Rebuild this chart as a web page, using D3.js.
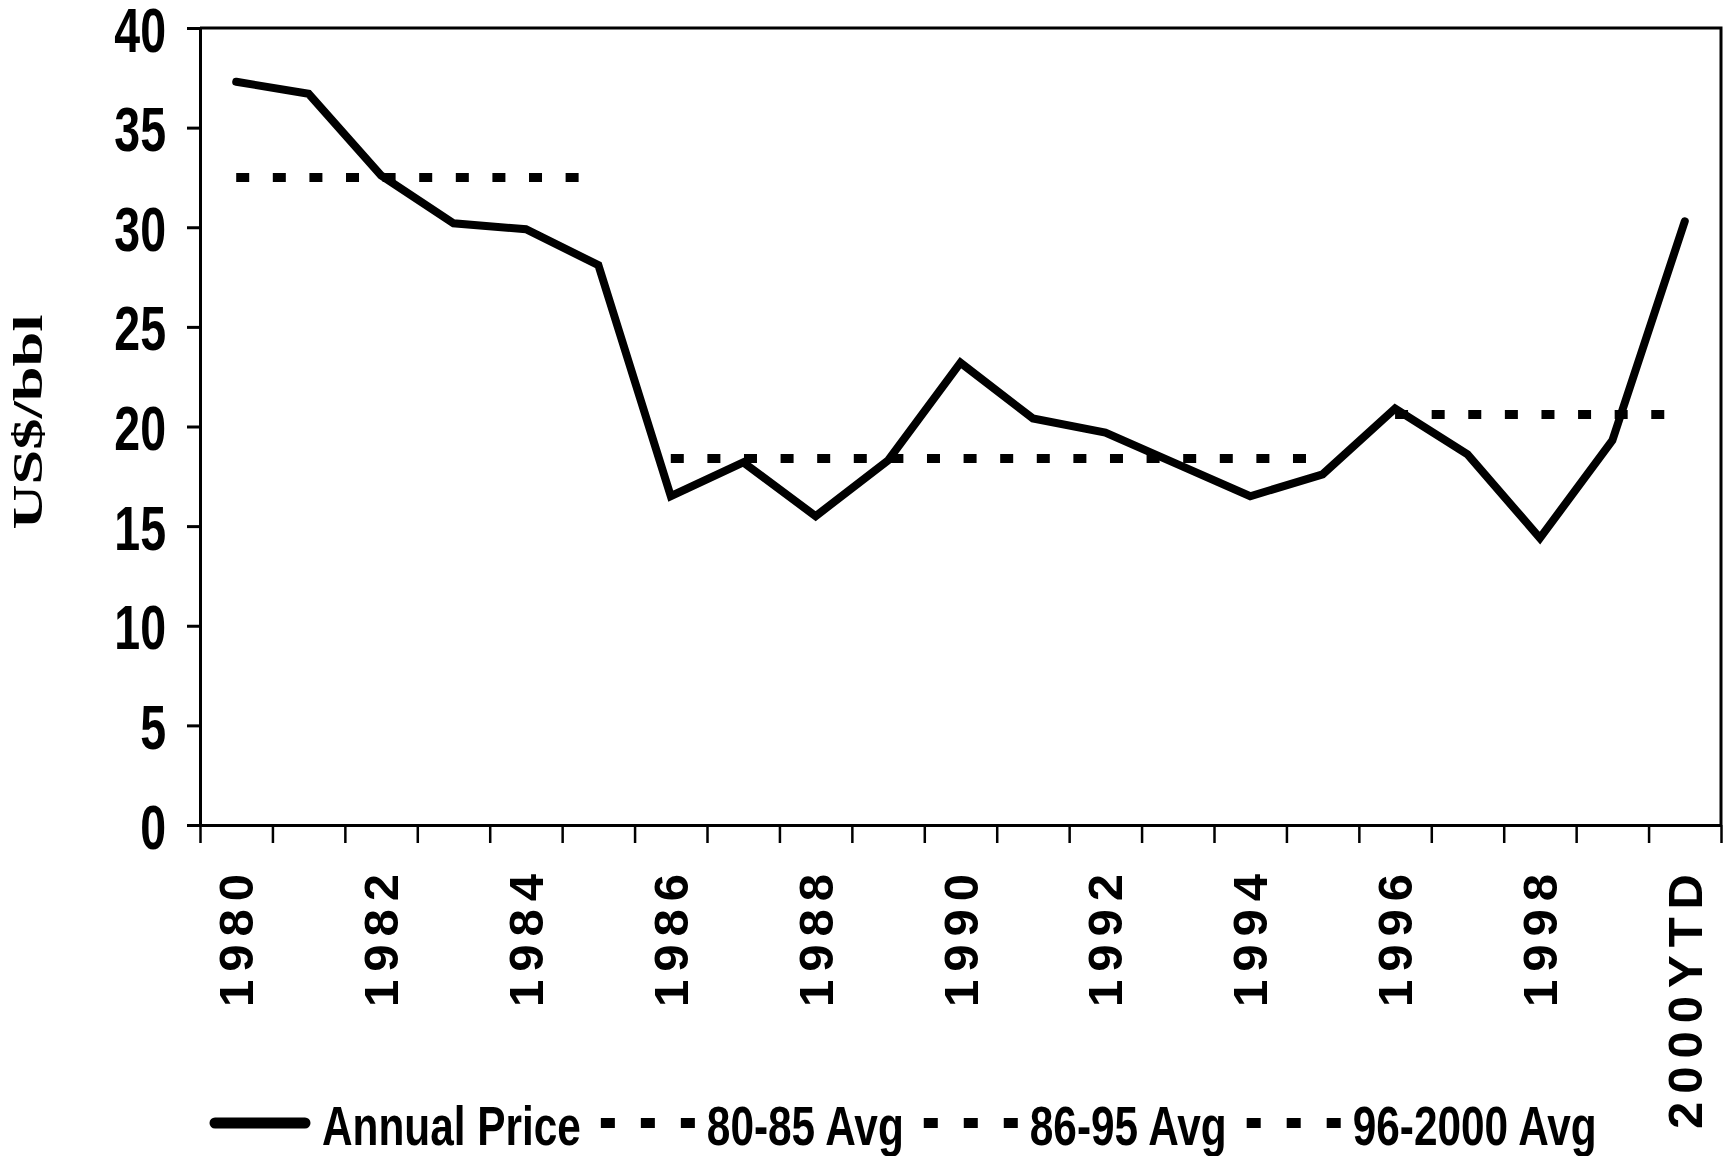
<!DOCTYPE html>
<html>

<head>
    <meta charset="utf-8">
    <script src="https://d3js.org/d3.v7.min.js"></script>
    <style>
        body { margin: 0; background: #fff; }
        .sans { font-family: "Liberation Sans", Arial, sans-serif; font-weight: bold; }
        .serif { font-family: "Liberation Serif", "Times New Roman", serif; font-weight: bold; }
    </style>
    <script>
        // annual oil price, US$/bbl
        const years = ["1980", "1981", "1982", "1983", "1984", "1985", "1986", "1987", "1988", "1989",
            "1990", "1991", "1992", "1993", "1994", "1995", "1996", "1997", "1998", "1999", "2000YTD"];
        const price = [37.3, 36.7, 32.6, 30.2, 29.9, 28.1, 16.5, 18.2, 15.5, 18.3,
            23.2, 20.4, 19.7, 18.1, 16.5, 17.6, 20.9, 18.6, 14.4, 19.3, 30.3];

        // period averages
        const avgNames = ["80-85 Avg", "86-95 Avg", "96-2000 Avg"];
        const avgFrom = ["1980", "1986", "1996"];
        const avgTo = ["1985", "1995", "2000YTD"];
        const avgValue = [32.5, 18.4, 20.6];

        const yTicks = [0, 5, 10, 15, 20, 25, 30, 35, 40];
        const xLabels = ["1980", "1982", "1984", "1986", "1988", "1990", "1992", "1994", "1996", "1998", "2000YTD"];

        function draw() {
            let width = 1728;
            let height = 1156;
            let left = 200, right = 1721, top = 28, bottom = 825;
            let narrow = 0.75; // condensed look of the original labels

            let svg = d3.select('body').append('svg')
                .attr('width', width)
                .attr('height', height);

            let x = d3.scaleBand().domain(years).range([left, right]);
            let xc = d => x(d) + x.bandwidth() / 2;
            let xEdge = d3.scaleLinear().domain([0, years.length]).range([left, right]);
            let y = d3.scaleLinear().domain([0, 40]).range([bottom, top]);

            // plot frame (top and right)
            svg.append('path')
                .attr('d', `M${left},${top}H${right}V${bottom}`)
                .attr('fill', 'none')
                .attr('stroke', '#000')
                .attr('stroke-width', 3);

            // y axis
            let yAxis = svg.append('g')
                .attr('transform', `translate(${left},0)`)
                .call(d3.axisLeft(y).tickValues(yTicks).tickSize(13).tickSizeOuter(0).tickPadding(21));
            yAxis.select('.domain').attr('stroke-width', 3);
            yAxis.selectAll('.tick line').attr('stroke-width', 3);
            yAxis.selectAll('.tick text')
                .attr('class', 'sans')
                .attr('font-size', 62)
                .attr('x', -34 / narrow)
                .attr('dy', 23)
                .attr('transform', `scale(${narrow},1)`)
                .attr('fill', '#000');

            // x axis: ticks between categories
            let xAxis = svg.append('g')
                .attr('transform', `translate(0,${bottom})`)
                .call(d3.axisBottom(xEdge).tickValues(d3.range(years.length + 1)).tickSize(18).tickSizeOuter(0).tickFormat(''));
            xAxis.select('.domain').attr('stroke-width', 3);
            xAxis.selectAll('.tick line').attr('stroke-width', 2.5);

            svg.append('g').selectAll('text')
                .data(xLabels)
                .enter()
                .append('text')
                    .attr('class', 'sans')
                    .attr('transform', d => `translate(${xc(d) + 17},874) rotate(-90)`)
                    .attr('text-anchor', 'end')
                    .attr('font-size', 49)
                    .text(d => d)
                    .each(function (d) {
                        // spaced-out glyphs as in the original
                        let w = this.getComputedTextLength();
                        d3.select(this)
                            .attr('textLength', w + (d.length - 1) * 8)
                            .attr('lengthAdjust', 'spacing');
                    });

            // y title
            svg.append('text')
                .attr('class', 'serif')
                .attr('transform', 'translate(42,422) rotate(-90)')
                .attr('text-anchor', 'middle')
                .attr('font-size', 42)
                .attr('textLength', 215)
                .attr('lengthAdjust', 'spacingAndGlyphs')
                .text('US$/bbl');

            // average lines
            svg.append('g').selectAll('path')
                .data(avgNames.map((n, i) => [[avgFrom[i], avgValue[i]], [avgTo[i], avgValue[i]]]))
                .enter()
                .append('path')
                    .attr('d', d3.line().x(d => xc(d[0])).y(d => y(d[1])))
                    .attr('fill', 'none')
                    .attr('stroke', '#000')
                    .attr('stroke-width', 9)
                    .attr('stroke-dasharray', '13,23.6');

            // annual price
            svg.append('path')
                .datum(years.map((d, i) => [d, price[i]]))
                .attr('d', d3.line().x(d => xc(d[0])).y(d => y(d[1])))
                .attr('fill', 'none')
                .attr('stroke', '#000')
                .attr('stroke-width', 8)
                .attr('stroke-linecap', 'round')
                .attr('stroke-linejoin', 'miter');

            // legend
            let legend = svg.append('g');
            let lx = 210, ly = 1123, ln = 0.77;
            let items = [{ name: 'Annual Price', dash: null }].concat(avgNames.map(n => ({ name: n, dash: '14,26' })));
            items.forEach((it, i) => {
                let w = it.dash ? 94 : 100;
                legend.append('line')
                    .attr('x1', lx + (it.dash ? 0 : 5)).attr('x2', lx + w - (it.dash ? 0 : 5))
                    .attr('y1', ly).attr('y2', ly)
                    .attr('stroke', '#000')
                    .attr('stroke-width', it.dash ? 10 : 11)
                    .attr('stroke-linecap', it.dash ? 'butt' : 'round')
                    .attr('stroke-dasharray', it.dash);
                lx += w + 12;
                let t = legend.append('text')
                    .attr('class', 'sans')
                    .attr('font-size', 55)
                    .attr('transform', `translate(${lx},1145) scale(${ln},1)`)
                    .text(it.name);
                lx += t.node().getComputedTextLength() * ln + 20;
            });
        }
    </script>
</head>

<body>
    <script>
        draw();
    </script>
</body>

</html>
